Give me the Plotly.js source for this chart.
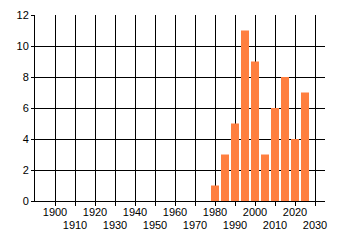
<!DOCTYPE html>
<html><head><meta charset="utf-8">
<script src="https://cdn.plot.ly/plotly-3.0.1.min.js"></script>
<style>html,body{margin:0;padding:0;background:#fff}#c{width:340px;height:245px}</style>
</head><body><div id="c"></div>
<script>
const years = [1980, 1985, 1990, 1995, 2000, 2005, 2010, 2015, 2020, 2025];
const counts = [1, 3, 5, 11, 9, 3, 6, 8, 4, 7];
const tickRow1 = [1900, 1920, 1940, 1960, 1980, 2000, 2020];
const tickRow2 = [1910, 1930, 1950, 1970, 1990, 2010, 2030];
const allTicks = [1900, 1910, 1920, 1930, 1940, 1950, 1960, 1970, 1980, 1990, 2000, 2010, 2020, 2030];

const font = {family: 'Liberation Sans, Arial, sans-serif', size: 11, color: '#000'};
const data = [{
  type: 'bar', x: years, y: counts, width: 4,
  marker: {color: '#FF7F40', line: {width: 0}},
  hoverinfo: 'none'
}];
const layout = {
  width: 340, height: 245,
  margin: {l: 35, r: 15, t: 15, b: 44},
  paper_bgcolor: '#fff', plot_bgcolor: '#fff',
  showlegend: false, font: font,
  xaxis: {
    range: [1890, 2035], tickvals: allTicks,
    ticktext: allTicks.map(v => tickRow1.includes(v) ? String(v) : ''),
    showgrid: true, gridcolor: '#000', gridwidth: 1,
    showline: true, linecolor: '#000', linewidth: 1,
    ticks: 'outside', ticklen: 4, tickcolor: '#000', tickwidth: 1,
    ticklabelstandoff: -3,
    zeroline: false, tickfont: font, fixedrange: true
  },
  xaxis2: {
    overlaying: 'x', anchor: 'y', side: 'bottom',
    range: [1890, 2035], tickvals: tickRow2, ticktext: tickRow2.map(String),
    showgrid: false, showline: false, ticks: '', zeroline: false,
    ticklabelstandoff: 16, tickfont: font, fixedrange: true
  },
  yaxis: {
    range: [0, 12], dtick: 2, tick0: 0,
    showgrid: true, gridcolor: '#000', gridwidth: 1,
    showline: true, linecolor: '#000', linewidth: 1,
    ticks: 'outside', ticklen: 3, tickcolor: '#000',
    zeroline: false, tickfont: font, fixedrange: true
  }
};
const d2 = data.concat([{type: 'scatter', x: [1890], y: [0], xaxis: 'x2', mode: 'markers', marker: {opacity: 0}, hoverinfo: 'none'}]);
Plotly.newPlot('c', d2, layout, {staticPlot: true});
</script></body></html>
